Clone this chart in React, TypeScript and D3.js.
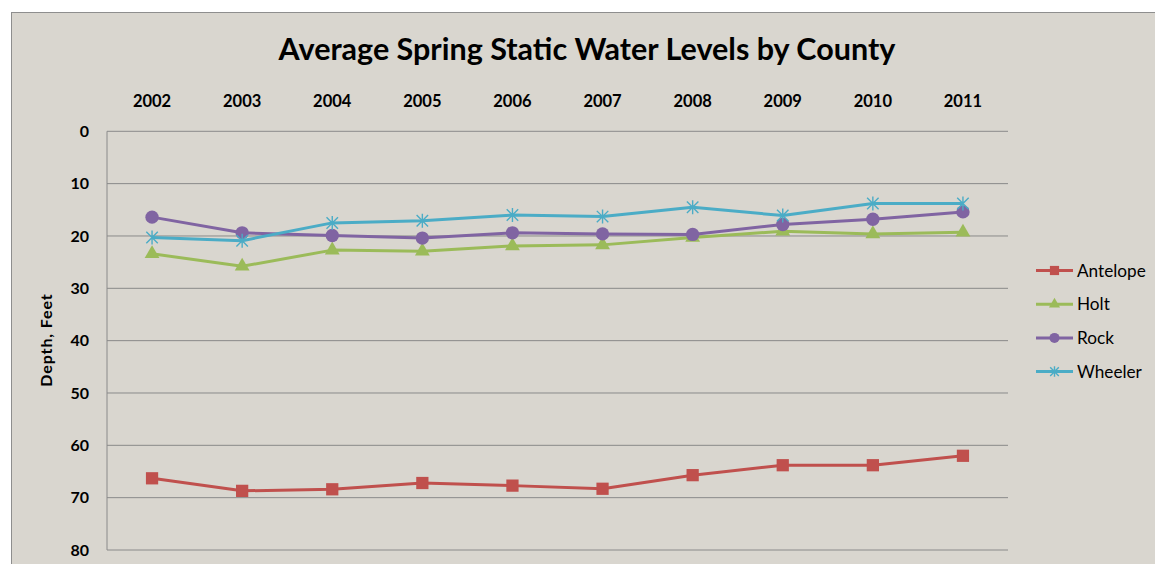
import React from "react";
import * as d3 from "d3";

const years = ["2002", "2003", "2004", "2005", "2006", "2007", "2008", "2009", "2010", "2011"];
const antelope = [66.3, 68.7, 68.4, 67.2, 67.7, 68.3, 65.7, 63.8, 63.8, 62.0];
const holt = [23.4, 25.8, 22.7, 22.9, 21.9, 21.7, 20.3, 19.1, 19.6, 19.3];
const rock = [16.4, 19.4, 19.9, 20.4, 19.4, 19.6, 19.7, 17.8, 16.8, 15.4];
const wheeler = [20.3, 20.9, 17.5, 17.1, 16.0, 16.3, 14.5, 16.1, 13.8, 13.8];
const yTicks = [0, 10, 20, 30, 40, 50, 60, 70, 80];
const seriesNames = ["Antelope", "Holt", "Rock", "Wheeler"];
const seriesColors = ["#C0504D", "#9BBB59", "#8064A2", "#4BACC6"];
const seriesMarkers = ["square", "triangle", "circle", "star"];
const title = "Average Spring Static Water Levels by County";
const yTitle = "Depth, Feet";

const W = 1155;
const H = 564;
const plot = { left: 107, right: 1008, top: 131.3, bottom: 550 };
const FONT = "Lato, 'Open Sans', sans-serif";

function Marker({ type, x, y, color, scale = 1 }: { type: string; x: number; y: number; color: string; scale?: number }) {
  if (type === "star") {
    const r = 7 * scale;
    const d = r * 0.82;
    const p = `M${x},${y - r}L${x},${y + r}M${x - d},${y - d}L${x + d},${y + d}M${x - d},${y + d}L${x + d},${y - d}`;
    return <path d={p} stroke={color} strokeWidth={1.4} fill="none" />;
  }
  const sym =
    type === "square" ? d3.symbolSquare : type === "triangle" ? d3.symbolTriangle : d3.symbolCircle;
  const size = type === "square" ? 150 : type === "triangle" ? 95 : 140;
  const p = d3.symbol().type(sym).size(size * scale * scale)() as string;
  return <path d={p} transform={`translate(${x},${y})`} fill={color} />;
}

export default function App() {
  const x = d3.scaleBand<string>().domain(years).range([plot.left, plot.right]);
  const y = d3.scaleLinear().domain([0, 80]).range([plot.top, plot.bottom]);
  const data = [antelope, holt, rock, wheeler];
  const line = d3
    .line<number>()
    .x((_, i) => (x(years[i]) as number) + x.bandwidth() / 2)
    .y((v) => y(v));

  return (
    <svg
      width={W}
      height={H}
      style={{ position: "absolute", left: 0, top: 0, background: "#ffffff" }}
    >
      <rect x={11.5} y={12.5} width={W} height={H} fill="#D9D6CF" stroke="#8E8E8E" strokeWidth={1} />
      <text x={587} y={60} textAnchor="middle" fontFamily={FONT} fontWeight="bold" fontSize={30.5} fill="#000">
        {title}
      </text>
      {yTicks.map((t) => (
        <line key={t} x1={plot.left} x2={plot.right} y1={y(t)} y2={y(t)} stroke="#8A8A8A" strokeWidth={1} />
      ))}
      <line x1={plot.left} x2={plot.left} y1={plot.top} y2={plot.bottom} stroke="#8A8A8A" strokeWidth={1} />
      {yTicks.map((t) => (
        <text
          key={"t" + t}
          x={89}
          y={y(t)}
          dy="0.36em"
          textAnchor="end"
          fontFamily={FONT}
          fontWeight="bold"
          fontSize={16}
          fill="#000"
        >
          {t}
        </text>
      ))}
      {years.map((yr) => (
        <text
          key={yr}
          x={(x(yr) as number) + x.bandwidth() / 2}
          y={101}
          dy="0.36em"
          textAnchor="middle"
          fontFamily={FONT}
          fontWeight="bold"
          fontSize={16.5}
          fill="#000"
        >
          {yr}
        </text>
      ))}
      <text
        transform={`translate(46,340) rotate(-90)`}
        textAnchor="middle"
        dy="0.36em"
        fontFamily={FONT}
        fontWeight="bold"
        fontSize={16}
        letterSpacing={0.9}
        fill="#000"
      >
        {yTitle}
      </text>
      {data.map((vals, si) => (
        <g key={seriesNames[si]}>
          <path d={line(vals) as string} fill="none" stroke={seriesColors[si]} strokeWidth={3} strokeLinejoin="round" />
          {vals.map((v, i) => (
            <Marker
              key={i}
              type={seriesMarkers[si]}
              x={(x(years[i]) as number) + x.bandwidth() / 2}
              y={y(v)}
              color={seriesColors[si]}
            />
          ))}
        </g>
      ))}
      {seriesNames.map((n, i) => {
        const ly = 270.5 + i * 33.7;
        return (
          <g key={"l" + n}>
            <line x1={1036} x2={1073} y1={ly} y2={ly} stroke={seriesColors[i]} strokeWidth={3} />
            <Marker type={seriesMarkers[i]} x={1054.5} y={ly} color={seriesColors[i]} scale={0.75} />
            <text x={1077} y={ly} dy="0.36em" fontFamily={FONT} fontSize={17.2} fill="#000">
              {n}
            </text>
          </g>
        );
      })}
    </svg>
  );
}
